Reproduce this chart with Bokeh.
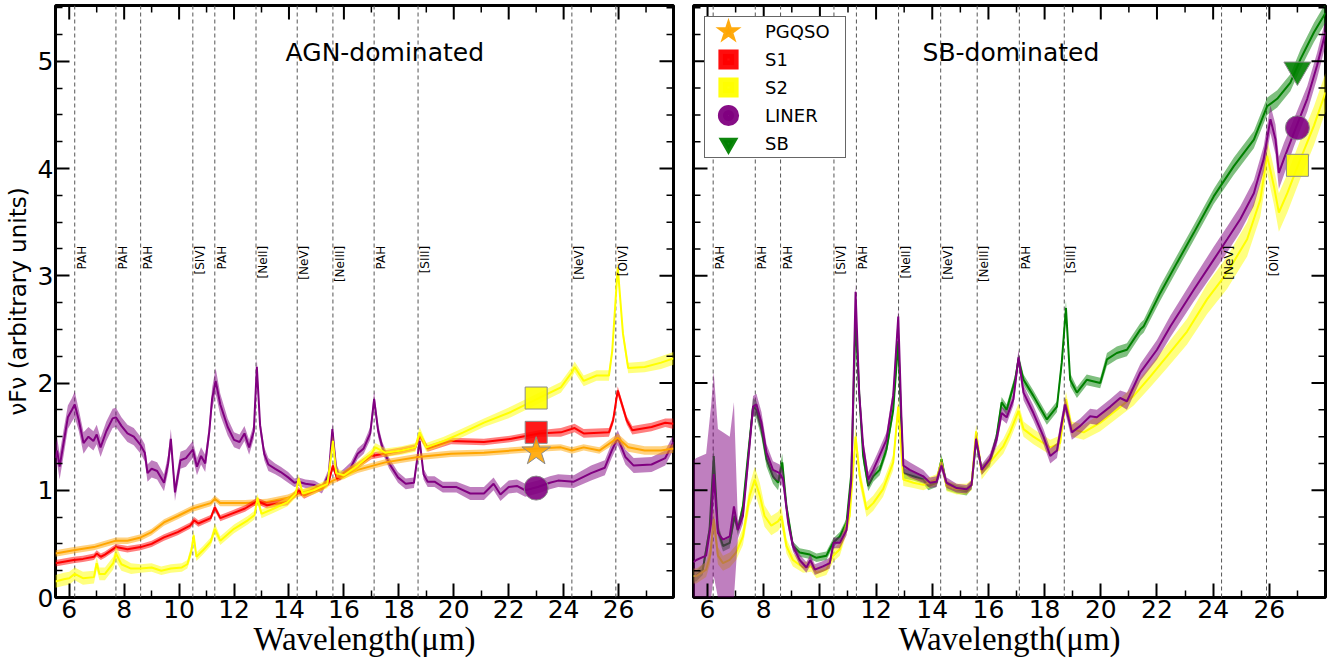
import numpy as np
from bokeh.plotting import figure
from bokeh.layouts import row
from bokeh.models import (Range1d, FixedTicker, Span, Label, Legend,
                          LegendItem, ColumnDataSource)
from bokeh.core.properties import value
from bokeh.embed import file_html
from bokeh.resources import INLINE

# ---------------- axis ticks ----------------
X_MAJOR = [6, 8, 10, 12, 14, 16, 18, 20, 22, 24, 26]
X_MINOR = [7, 9, 11, 13, 15, 17, 19, 21, 23, 25, 27]
Y_MAJOR = [0, 1, 2, 3, 4, 5]
Y_MINOR = [0.25, 0.5, 0.75, 1.25, 1.5, 1.75, 2.25, 2.5, 2.75, 3.25, 3.5,
           3.75, 4.25, 4.5, 4.75, 5.25, 5.5]
X_RANGE = (5.5, 28.0)
Y_RANGE = (0.0, 5.52)

# ---------------- emission line markers ----------------
LINE_WL = [6.2, 7.7, 8.6, 10.5, 11.3, 12.8, 14.3, 15.6, 17.1, 18.7, 24.3, 25.9]
LINE_NAMES = ["PAH", "PAH", "PAH", "[SIV]", "PAH", "[NeII]", "[NeV]", "[NeIII]",
              "PAH", "[SIII]", "[NeV]", "[OIV]"]

# ---------------- AGN-dominated panel ----------------
L_LINER_WL = [5.5, 5.56, 5.65, 5.8, 5.95, 6.1, 6.2, 6.35, 6.52, 6.7,
              6.88, 7.0, 7.14, 7.35, 7.58, 7.7, 7.9, 8.12, 8.35, 8.6,
              8.75, 8.85, 9.0, 9.2, 9.45, 9.6, 9.7, 9.85, 10.05, 10.25,
              10.5, 10.65, 10.8, 10.95, 11.1, 11.2, 11.33, 11.5, 11.77, 12.0,
              12.2, 12.38, 12.55, 12.72, 12.83, 12.95, 13.1, 13.25, 13.5, 13.7,
              13.97, 14.2, 14.35, 14.6, 14.92, 15.2, 15.45, 15.58, 15.72, 15.85,
              16.0, 16.25, 16.5, 16.72, 16.96, 17.1, 17.25, 17.4, 17.65, 17.97,
              18.25, 18.55, 18.76, 18.9, 19.05, 19.3, 19.6, 20.1, 20.6, 21.1,
              21.45, 21.7, 22.0, 22.3, 22.6, 23.06, 23.5, 23.8, 24.37, 25.0,
              25.5, 25.75, 25.97, 26.25, 26.55, 27.2, 27.7, 28.0]
L_LINER_V = [1.30, 1.37, 1.22, 1.45, 1.68, 1.75, 1.80, 1.65, 1.44, 1.50,
             1.46, 1.52, 1.40, 1.55, 1.67, 1.68, 1.60, 1.53, 1.50, 1.42,
             1.35, 1.16, 1.20, 1.18, 1.07, 1.25, 1.48, 0.98, 1.28, 1.30,
             1.38, 1.22, 1.32, 1.25, 1.55, 1.85, 2.02, 1.80, 1.59, 1.47,
             1.45, 1.53, 1.40, 1.55, 2.15, 1.60, 1.34, 1.24, 1.20, 1.17,
             1.12, 1.07, 1.08, 1.06, 1.05, 1.01, 1.15, 1.57, 1.20, 1.13,
             1.16, 1.21, 1.34, 1.39, 1.53, 1.85, 1.55, 1.40, 1.25, 1.12,
             1.06, 1.07, 1.46, 1.15, 1.08, 1.08, 1.03, 1.03, 0.97, 0.97,
             1.06, 0.96, 1.03, 1.04, 1.00, 1.03, 1.07, 1.09, 1.08, 1.16,
             1.21, 1.37, 1.49, 1.31, 1.23, 1.24, 1.30, 1.45]
L_LINER_E = [.12, .12, .12, .12, .11, .11, .12, .10, .10, .09,
             .09, .09, .09, .09, .09, .09, .08, .08, .08, .08,
             .08, .08, .08, .08, .08, .08, .09, .08, .08, .08,
             .08, .08, .08, .08, .08, .10, .12, .10, .08, .07,
             .07, .07, .07, .07, .08, .07, .06, .06, .05, .05,
             .05, .04, .04, .04, .04, .04, .05, .06, .05, .04,
             .04, .05, .05, .05, .06, .07, .06, .05, .05, .05,
             .05, .05, .05, .05, .05, .05, .05, .05, .06, .06,
             .06, .06, .06, .06, .06, .06, .06, .06, .06, .07,
             .07, .07, .07, .07, .07, .07, .07, .07]

L_S2_WL = [5.5, 5.8, 6.0, 6.2, 6.5, 6.9, 7.0, 7.1, 7.3, 7.6,
           7.7, 7.9, 8.25, 8.6, 9.0, 9.35, 9.7, 10.1, 10.3, 10.45,
           10.53, 10.63, 10.87, 11.15, 11.3, 11.5, 12.0, 12.5, 12.75, 12.85,
           13.0, 13.45, 13.95, 14.25, 14.35, 14.5, 14.9, 15.4, 15.5, 15.6,
           15.72, 16.0, 16.5, 17.0, 17.15, 17.5, 18.1, 18.6, 18.76, 19.0,
           19.64, 20.35, 21.1, 22.08, 23.1, 23.9, 24.3, 24.4, 24.73, 25.2,
           25.65, 25.77, 25.97, 26.16, 26.35, 26.95, 27.55, 28.0]
L_S2_V = [0.15, 0.17, 0.18, 0.22, 0.18, 0.19, 0.32, 0.22, 0.22, 0.32,
          0.41, 0.31, 0.27, 0.27, 0.28, 0.25, 0.27, 0.28, 0.31, 0.44,
          0.58, 0.38, 0.44, 0.52, 0.64, 0.53, 0.64, 0.72, 0.77, 0.93,
          0.78, 0.83, 0.89, 0.97, 1.11, 0.97, 1.00, 1.06, 1.25, 1.46,
          1.16, 1.14, 1.23, 1.34, 1.40, 1.35, 1.37, 1.40, 1.54, 1.40,
          1.46, 1.54, 1.63, 1.73, 1.86, 1.96, 2.10, 2.15, 2.02, 2.07,
          2.07, 2.30, 3.08, 2.46, 2.14, 2.15, 2.19, 2.23]
L_S2_E = [.06, .06, .06, .06, .06, .06, .06, .06, .06, .06,
          .07, .06, .05, .04, .04, .04, .04, .04, .04, .05,
          .05, .04, .04, .04, .05, .04, .04, .04, .04, .04,
          .04, .04, .04, .04, .04, .04, .04, .04, .04, .05,
          .04, .04, .04, .04, .04, .04, .04, .04, .05, .04,
          .04, .04, .04, .05, .05, .05, .05, .05, .05, .05,
          .05, .05, .06, .05, .05, .05, .06, .06]

L_S1_WL = [5.5, 6.16, 6.5, 6.9, 7.0, 7.15, 7.3, 7.7, 8.12, 8.6,
           9.0, 9.45, 9.95, 10.4, 10.55, 10.7, 11.15, 11.3, 11.5, 11.9,
           12.4, 12.85, 13.2, 13.95, 14.35, 14.55, 15.2, 15.45, 15.6, 15.75,
           16.5, 17.0, 18.1, 18.6, 18.76, 19.05, 19.9, 21.1, 22.1, 23.1,
           23.9, 24.4, 24.73, 25.65, 25.8, 25.97, 26.3, 26.5, 27.2, 27.7,
           28.0]
L_S1_V = [0.32, 0.35, 0.36, 0.38, 0.41, 0.38, 0.40, 0.47, 0.45, 0.47,
          0.50, 0.56, 0.61, 0.67, 0.72, 0.69, 0.74, 0.84, 0.74, 0.78,
          0.83, 0.90, 0.86, 0.89, 1.00, 0.95, 1.03, 1.08, 1.23, 1.11,
          1.23, 1.32, 1.37, 1.40, 1.51, 1.39, 1.46, 1.45, 1.48, 1.53,
          1.54, 1.58, 1.53, 1.54, 1.65, 1.93, 1.65, 1.56, 1.59, 1.63,
          1.62]
L_S1_E = [.03, .03, .03, .03, .03, .03, .03, .03, .03, .03,
          .03, .03, .03, .03, .03, .03, .03, .03, .03, .03,
          .03, .03, .03, .03, .03, .03, .03, .03, .03, .03,
          .03, .03, .03, .03, .03, .03, .03, .03, .03, .03,
          .04, .04, .04, .04, .04, .04, .04, .04, .04, .04,
          .05]

L_PG_WL = [5.5, 6.16, 6.9, 7.7, 8.12, 8.6, 9.0, 9.45, 9.95, 10.5,
           11.15, 11.3, 11.5, 12.4, 13.2, 13.95, 14.35, 15.2, 15.6, 16.5,
           17.5, 18.7, 19.9, 21.1, 22.1, 23.1, 23.9, 24.3, 24.73, 25.3,
           25.97, 26.35, 26.95, 27.55, 28.0]
L_PG_V = [0.41, 0.44, 0.47, 0.53, 0.53, 0.56, 0.61, 0.70, 0.76, 0.83,
          0.88, 0.92, 0.88, 0.88, 0.89, 0.93, 0.97, 1.03, 1.09, 1.19,
          1.26, 1.31, 1.34, 1.35, 1.37, 1.39, 1.40, 1.37, 1.40, 1.37,
          1.49, 1.40, 1.37, 1.37, 1.39]
L_PG_E = [.03, .03, .03, .03, .03, .03, .03, .03, .03, .03,
          .03, .03, .03, .03, .03, .03, .03, .03, .03, .03,
          .03, .03, .03, .03, .03, .03, .03, .03, .03, .03,
          .04, .04, .04, .04, .04]

# ---------------- SB-dominated panel ----------------
R_SB_WL = [5.5, 5.6, 5.83, 6.07, 6.22, 6.37, 6.55, 6.79, 6.96, 7.08,
           7.26, 7.44, 7.62, 7.74, 7.92, 8.1, 8.33, 8.51, 8.66, 8.81,
           9.04, 9.28, 9.64, 9.88, 10.23, 10.47, 10.71, 10.95, 11.12, 11.27,
           11.4, 11.54, 11.72, 11.9, 12.13, 12.37, 12.61, 12.79, 12.9, 12.97,
           13.33, 13.68, 13.86, 14.15, 14.33, 14.51, 14.87, 15.22, 15.4, 15.56,
           15.76, 16.05, 16.29, 16.47, 16.65, 16.95, 17.07, 17.25, 17.6, 18.08,
           18.44, 18.61, 18.76, 18.91, 19.15, 19.5, 19.98, 20.22, 20.57, 20.93,
           21.41, 21.53, 22.12, 22.71, 23.31, 24.02, 24.73, 25.45, 25.92, 26.28,
           26.75, 27.11, 27.59, 28.0]
R_SB_V = [0.20, 0.20, 0.26, 0.63, 1.32, 0.63, 0.48, 0.51, 0.76, 0.63,
          0.85, 1.32, 1.78, 1.75, 1.57, 1.29, 1.13, 1.07, 1.26, 0.85,
          0.48, 0.42, 0.40, 0.37, 0.39, 0.51, 0.57, 0.70, 1.16, 2.60,
          1.90, 1.32, 1.04, 1.13, 1.19, 1.38, 1.75, 2.39, 1.60, 1.16,
          1.13, 1.10, 1.04, 1.07, 1.29, 1.04, 1.01, 0.99, 1.05, 1.47,
          1.19, 1.26, 1.50, 1.82, 1.75, 2.03, 2.22, 2.03, 1.88, 1.66,
          1.78, 2.19, 2.70, 2.03, 1.91, 2.03, 2.00, 2.22, 2.28, 2.31,
          2.50, 2.53, 2.84, 3.12, 3.40, 3.74, 4.02, 4.27, 4.58, 4.65,
          4.80, 5.02, 5.27, 5.45]
R_SB_E = [.05, .05, .05, .06, .08, .06, .05, .05, .05, .05,
          .05, .07, .08, .08, .08, .07, .07, .07, .08, .05,
          .04, .04, .04, .04, .04, .04, .04, .04, .05, .08,
          .07, .06, .05, .05, .05, .05, .06, .08, .06, .05,
          .04, .04, .04, .04, .04, .04, .04, .04, .04, .04,
          .04, .04, .05, .05, .05, .05, .06, .05, .05, .05,
          .05, .06, .07, .06, .05, .05, .05, .06, .06, .06,
          .06, .06, .07, .07, .07, .07, .08, .08, .08, .08,
          .08, .09, .09, .09]

R_LINER_WL = [5.5, 5.6, 5.95, 6.13, 6.22, 6.37, 6.55, 6.79, 6.94, 7.08,
              7.26, 7.44, 7.62, 7.74, 7.92, 8.1, 8.33, 8.57, 8.69, 8.87,
              9.04, 9.28, 9.52, 9.66, 9.82, 10.11, 10.35, 10.49, 10.71, 10.95,
              11.12, 11.27, 11.4, 11.54, 11.72, 11.9, 12.07, 12.37, 12.61, 12.79,
              12.9, 12.97, 13.2, 13.68, 13.92, 14.15, 14.33, 14.51, 14.87, 15.22,
              15.4, 15.56, 15.76, 16.05, 16.29, 16.47, 16.65, 16.89, 17.07, 17.25,
              17.6, 17.96, 18.2, 18.44, 18.61, 18.73, 18.97, 19.27, 19.62, 19.86,
              20.34, 20.69, 20.93, 21.41, 22.0, 22.48, 23.31, 24.02, 24.5, 24.97,
              25.45, 25.8, 26.04, 26.22, 26.34, 26.52, 26.87, 27.35, 27.7, 28.0]
R_LINER_V = [0.33, 0.35, 0.39, 0.70, 1.15, 0.60, 0.54, 0.57, 0.85, 0.63,
             0.76, 1.26, 1.78, 1.80, 1.63, 1.35, 1.19, 1.16, 1.10, 0.70,
             0.48, 0.35, 0.28, 0.35, 0.26, 0.29, 0.32, 0.51, 0.51, 0.63,
             1.10, 2.85, 1.90, 1.41, 1.10, 1.19, 1.29, 1.47, 1.88, 2.62,
             1.70, 1.23, 1.19, 1.13, 1.07, 1.08, 1.23, 1.07, 1.02, 1.01,
             1.05, 1.48, 1.19, 1.29, 1.47, 1.72, 1.68, 1.85, 2.24, 1.91,
             1.72, 1.50, 1.32, 1.37, 1.63, 1.80, 1.54, 1.60, 1.69, 1.68,
             1.78, 1.86, 1.83, 2.10, 2.31, 2.53, 2.87, 3.15, 3.34, 3.53,
             3.77, 4.09, 4.46, 4.27, 3.96, 4.09, 4.33, 4.65, 4.96, 5.27]
R_LINER_E = [.95, .95, .95, 1.10, .95, .97, 1.00, .93, .97, .08,
             .07, .08, .10, .10, .10, .08, .08, .08, .08, .06,
             .05, .05, .05, .05, .05, .05, .05, .05, .05, .05,
             .06, .08, .07, .07, .07, .07, .07, .07, .07, .08,
             .07, .07, .07, .06, .05, .05, .05, .05, .04, .04,
             .04, .05, .05, .05, .06, .06, .06, .06, .07, .07,
             .07, .07, .07, .07, .07, .07, .07, .07, .07, .07,
             .07, .07, .08, .08, .09, .10, .11, .12, .12, .12,
             .12, .12, .13, .14, .15, .15, .13, .12, .12, .12]

R_S2_WL = [5.5, 5.6, 5.95, 6.1, 6.22, 6.37, 6.55, 6.79, 7.02, 7.26,
           7.5, 7.68, 7.86, 8.03, 8.27, 8.51, 8.63, 8.81, 9.04, 9.4,
           9.7, 9.88, 10.23, 10.47, 10.71, 11.06, 11.27, 11.42, 11.66, 11.9,
           12.25, 12.61, 12.79, 12.97, 13.33, 13.68, 14.15, 14.33, 14.51, 14.87,
           15.22, 15.4, 15.56, 15.76, 16.05, 16.53, 16.77, 17.07, 17.25, 17.6,
           18.2, 18.55, 18.76, 18.97, 19.39, 19.98, 20.57, 21.17, 21.76, 22.36,
           23.07, 23.78, 24.5, 25.21, 25.68, 25.92, 26.16, 26.34, 26.64, 27.11,
           27.59, 28.0]
R_S2_V = [0.20, 0.20, 0.26, 0.40, 0.73, 0.39, 0.32, 0.35, 0.42, 0.57,
          0.95, 1.10, 0.95, 0.76, 0.67, 0.71, 0.76, 0.48, 0.35, 0.28,
          0.29, 0.23, 0.26, 0.39, 0.45, 0.76, 1.50, 1.13, 0.82, 0.88,
          1.01, 1.26, 1.78, 1.10, 1.07, 1.05, 1.10, 1.26, 1.04, 1.01,
          1.01, 1.05, 1.55, 1.16, 1.26, 1.41, 1.54, 1.74, 1.57, 1.50,
          1.40, 1.44, 1.85, 1.57, 1.54, 1.63, 1.75, 1.88, 2.06, 2.25,
          2.48, 2.78, 3.03, 3.34, 3.71, 4.12, 3.84, 3.59, 3.77, 4.09,
          4.40, 4.71]
R_S2_E = [.07, .07, .07, .08, .10, .08, .07, .07, .07, .08,
          .10, .12, .12, .10, .09, .09, .09, .07, .06, .05,
          .05, .05, .05, .06, .06, .07, .09, .08, .07, .07,
          .07, .07, .08, .06, .05, .05, .05, .05, .05, .05,
          .05, .05, .06, .06, .06, .07, .07, .07, .07, .07,
          .07, .07, .07, .07, .07, .08, .08, .09, .10, .11,
          .12, .14, .15, .16, .16, .16, .17, .18, .18, .18,
          .18, .18]

# ---------------- class markers ----------------
L_MARK_WL = 23.0
L_MARK_CLASS = ["S2", "S1", "PGQSO", "LINER"]
L_MARK_V = [1.86, 1.54, 1.36, 1.02]
R_MARK_WL = 27.0
R_MARK_CLASS = ["SB", "LINER", "S2"]
R_MARK_V = [4.92, 4.38, 4.03]

LEGEND_CLASSES = ["PGQSO", "S1", "S2", "LINER", "SB"]

COLORS = {"PGQSO": "#FFA500", "S1": "#FF0000", "S2": "#FFFF00",
          "LINER": "#800080", "SB": "#008000"}
MARKERS = {"PGQSO": "star", "S1": "square", "S2": "square",
           "LINER": "circle", "SB": "inverted_triangle"}
MSIZE = {"PGQSO": 30, "S1": 22, "S2": 22, "LINER": 24, "SB": 27}
LEG_LW = {"PGQSO": 5, "S1": 9, "S2": 9, "LINER": 10, "SB": 5}
LEG_JOIN = {"PGQSO": "miter", "S1": "miter", "S2": "miter", "LINER": "round", "SB": "miter"}

H = 660
FONT = "DejaVu Sans"
TICK_MAJOR_PX = 14
TICK_MINOR_PX = 7


def style_axis(ax, major, minor):
    ax.ticker = FixedTicker(ticks=major, minor_ticks=minor)
    ax.axis_line_color = None
    ax.major_tick_in = TICK_MAJOR_PX
    ax.major_tick_out = 0
    ax.minor_tick_in = TICK_MINOR_PX
    ax.minor_tick_out = 0
    ax.major_tick_line_width = 2
    ax.minor_tick_line_width = 1.5
    ax.major_tick_line_color = "black"
    ax.minor_tick_line_color = "black"
    ax.major_label_text_font = FONT
    ax.major_label_text_font_size = "25px"
    ax.major_label_text_color = "black"
    ax.major_label_standoff = 2


def edge_ticks(p, frame_w, frame_h, top=True, right=True, left=False):
    """Inward tick marks on frame edges that carry no labels."""
    xpx = (X_RANGE[1] - X_RANGE[0]) / frame_w
    ypx = (Y_RANGE[1] - Y_RANGE[0]) / frame_h
    for ticks, length, lw in ((X_MAJOR, TICK_MAJOR_PX, 2), (X_MINOR, TICK_MINOR_PX, 1.5)):
        if top:
            p.segment(x0=ticks, y0=[Y_RANGE[1]] * len(ticks), x1=ticks,
                      y1=[Y_RANGE[1] - length * ypx] * len(ticks),
                      line_color="black", line_width=lw)
    for ticks, length, lw in ((Y_MAJOR, TICK_MAJOR_PX, 2), (Y_MINOR, TICK_MINOR_PX, 1.5)):
        if right:
            p.segment(x0=[X_RANGE[1]] * len(ticks), y0=ticks,
                      x1=[X_RANGE[1] - length * xpx] * len(ticks), y1=ticks,
                      line_color="black", line_width=lw)
        if left:
            p.segment(x0=[X_RANGE[0]] * len(ticks), y0=ticks,
                      x1=[X_RANGE[0] + length * xpx] * len(ticks), y1=ticks,
                      line_color="black", line_width=lw)


def make_panel(width, bl, br, ylabels):
    p = figure(width=width, height=H, x_range=Range1d(*X_RANGE), y_range=Range1d(*Y_RANGE),
               output_backend="svg", toolbar_location=None,
               min_border_left=bl, min_border_right=br, min_border_top=5,
               min_border_bottom=63)
    p.xgrid.visible = False
    p.ygrid.visible = False
    p.outline_line_color = "black"
    p.outline_line_width = 3
    p.outline_line_alpha = 1
    p.background_fill_color = "white"
    p.border_fill_color = "white"
    style_axis(p.xaxis[0], X_MAJOR, X_MINOR)
    xa = p.xaxis[0]
    xa.axis_label = "Wavelength(\u03bcm)"
    xa.axis_label_text_font = "Liberation Serif"
    xa.axis_label_text_font_style = "normal"
    xa.axis_label_text_font_size = "33px"
    xa.axis_label_text_color = "black"
    xa.axis_label_standoff = 0
    if ylabels:
        ya = p.yaxis[0]
        style_axis(ya, Y_MAJOR, Y_MINOR)
        ya.axis_label = "\u03bdF\u03bd (arbitrary units)"
        ya.axis_label_text_font = FONT
        ya.axis_label_text_font_style = "normal"
        ya.axis_label_text_font_size = "23px"
        ya.axis_label_text_color = "black"
        ya.axis_label_standoff = 4
    else:
        p.yaxis.visible = False
    for wl in LINE_WL:
        p.add_layout(Span(location=wl, dimension="height", line_color="#555555",
                          line_dash="4 3", line_width=1, level="underlay"))
    return p


def add_series(p, wl, v, e, color):
    wl = np.array(wl)
    v = np.array(v)
    e = np.array(e)
    assert len(wl) == len(v) == len(e)
    p.varea(x=wl, y1=np.clip(v - e, 0, None), y2=v + e, fill_color=color, fill_alpha=0.5)
    p.line(wl, v, line_color=color, line_width=2)


def add_line_labels(p):
    src = ColumnDataSource(dict(x=LINE_WL, t=LINE_NAMES))
    p.text(x="x", y=3.28, text="t", source=src, angle=np.pi / 2,
           text_align="right", text_baseline="top",
           text_font=value(FONT), text_font_size="12px", text_color="black")


def add_markers(p, wl, classes, vals):
    src = ColumnDataSource(dict(
        x=[wl] * len(classes), y=vals,
        m=[MARKERS[c] for c in classes],
        c=[COLORS[c] for c in classes],
        s=[MSIZE[c] for c in classes]))
    p.scatter(x="x", y="y", marker="m", size="s", fill_color="c", fill_alpha=0.9,
              line_color="#8a8a8a", line_width=1, source=src)


# ---------------- left panel ----------------
p1 = make_panel(683, 55, 10, True)
add_series(p1, L_LINER_WL, L_LINER_V, L_LINER_E, COLORS["LINER"])
add_series(p1, L_PG_WL, L_PG_V, L_PG_E, COLORS["PGQSO"])
add_series(p1, L_S1_WL, L_S1_V, L_S1_E, COLORS["S1"])
add_series(p1, L_S2_WL, L_S2_V, L_S2_E, COLORS["S2"])
add_line_labels(p1)
add_markers(p1, L_MARK_WL, L_MARK_CLASS, L_MARK_V)
edge_ticks(p1, 618, 590, top=True, right=True, left=False)
p1.add_layout(Label(x=17.49, y=5.08, text="AGN-dominated", text_align="center",
                    text_baseline="middle", text_font=FONT, text_font_size="25px",
                    text_color="black"))

# ---------------- right panel ----------------
p2 = make_panel(653, 10, 11, False)
add_series(p2, R_SB_WL, R_SB_V, R_SB_E, COLORS["SB"])
add_series(p2, R_S2_WL, R_S2_V, R_S2_E, COLORS["S2"])
add_series(p2, R_LINER_WL, R_LINER_V, R_LINER_E, COLORS["LINER"])
add_line_labels(p2)
add_markers(p2, R_MARK_WL, R_MARK_CLASS, R_MARK_V)
edge_ticks(p2, 632, 590, top=True, right=True, left=True)
p2.add_layout(Label(x=16.8, y=5.08, text="SB-dominated", text_align="center",
                    text_baseline="middle", text_font=FONT, text_font_size="25px",
                    text_color="black"))

# legend: hidden copies of the class markers (real marker values) feed the legend keys
mark_lookup = dict(zip(L_MARK_CLASS, [(L_MARK_WL, v) for v in L_MARK_V]))
mark_lookup.update(dict(zip(R_MARK_CLASS, [(R_MARK_WL, v) for v in R_MARK_V])))
items = []
for cls in LEGEND_CLASSES:
    mx, my = mark_lookup[cls]
    r = p2.scatter(x=[mx], y=[my], marker=MARKERS[cls], fill_color=COLORS[cls],
                   fill_alpha=0.95, line_color=COLORS[cls], line_alpha=0.95,
                   line_width=LEG_LW[cls], line_join=LEG_JOIN[cls], size=MSIZE[cls])
    r.visible = False
    items.append(LegendItem(label=cls, renderers=[r]))
leg = Legend(items=items, location="top_left", margin=11,
             glyph_width=46, glyph_height=28, padding=0, spacing=0,
             label_standoff=14, label_width=80, label_height=28, label_text_font=FONT,
             label_text_font_size="18px", label_text_color="black",
             border_line_color="black", border_line_alpha=0.6, border_line_width=1,
             background_fill_color="white", background_fill_alpha=1)
p2.add_layout(leg)

layout = row(p1, p2)
open("out.html", "w").write(file_html(layout, INLINE))
